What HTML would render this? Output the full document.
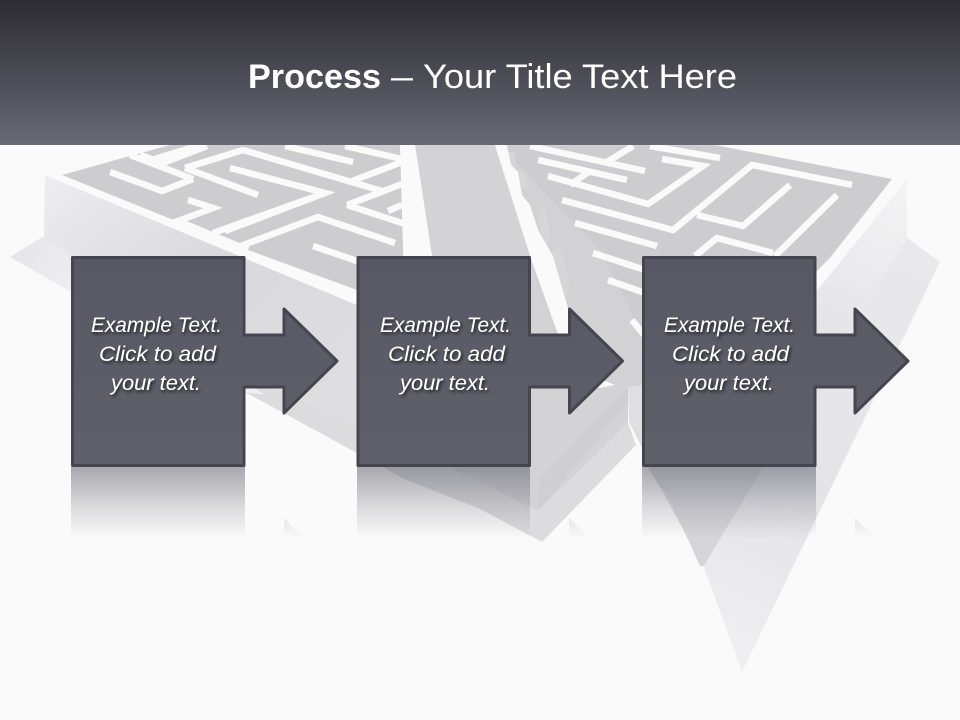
<!DOCTYPE html>
<html>
<head>
<meta charset="utf-8">
<style>
html,body{margin:0;padding:0;background:#fafafa;}
svg{display:block;}
.t{font-family:"Liberation Sans",sans-serif;font-style:italic;font-size:21.5px;fill:#fff;}
.h{font-family:"Liberation Sans",sans-serif;font-size:34px;fill:#fff;}
</style>
</head>
<body>
<svg width="960" height="720" viewBox="0 0 960 720" xmlns="http://www.w3.org/2000/svg">
<defs>
<linearGradient id="hd" x1="0" y1="0" x2="0" y2="1"><stop offset="0" stop-color="#2d2c32"/><stop offset="1" stop-color="#696975"/></linearGradient>
<linearGradient id="wl" gradientUnits="userSpaceOnUse" x1="45" y1="170" x2="300" y2="480"><stop offset="0" stop-color="#eeeef0"/><stop offset=".45" stop-color="#d9d9dd"/><stop offset="1" stop-color="#dfdfe2"/></linearGradient>
<linearGradient id="sh" gradientUnits="userSpaceOnUse" x1="10" y1="257" x2="90" y2="300"><stop offset="0" stop-color="#e6e6e9"/><stop offset="1" stop-color="#f0f0f2"/></linearGradient>
<linearGradient id="rw" gradientUnits="userSpaceOnUse" x1="900" y1="190" x2="720" y2="560"><stop offset="0" stop-color="#f3f3f4"/><stop offset=".4" stop-color="#e4e4e7"/><stop offset="1" stop-color="#dcdcdf"/></linearGradient>
<linearGradient id="rs" gradientUnits="userSpaceOnUse" x1="920" y1="260" x2="740" y2="670"><stop offset="0" stop-color="#e9e9ec"/><stop offset=".6" stop-color="#e4e4e8"/><stop offset="1" stop-color="#f0f0f3"/></linearGradient>
<linearGradient id="bx" x1="0" y1="0" x2="0" y2="1"><stop offset="0" stop-color="#585864"/><stop offset="1" stop-color="#60606b"/></linearGradient>
<linearGradient id="rf" gradientUnits="userSpaceOnUse" x1="0" y1="467" x2="0" y2="539"><stop offset="0" stop-color="#5b5b67" stop-opacity=".52"/><stop offset=".55" stop-color="#5b5b67" stop-opacity=".2"/><stop offset="1" stop-color="#5b5b67" stop-opacity="0"/></linearGradient>
<filter id="ts" x="-10%" y="-30%" width="125%" height="170%"><feDropShadow dx="1.5" dy="2" stdDeviation="1.6" flood-color="#000" flood-opacity=".7"/></filter>
</defs>

<rect width="960" height="720" fill="#fafafa"/>

<!-- left maze shadow and wall -->
<polygon points="44,236 10,257 260,400 357,453 420,300" fill="url(#sh)"/>
<polygon points="45,175 44,236 260,392 357,440 440,462 600,300 405,325" fill="url(#wl)"/>
<polygon points="245,392 357,453 377,463 402,478 480,509 542,542 636,445 628,423 538,511 480,483 440,462 300,400" fill="#dcdcdf"/>

<!-- right maze shadow and wall -->
<polygon points="907,238 940,262 742,672 703,565 800,380" fill="url(#rs)"/>
<polygon points="907,179 907,238 703,566 660,487 647,466 640,420 816,290" fill="url(#rw)"/>
<polygon points="647,466 660,487 666,491 700,566 704,566 763,466" fill="#d6d6da"/>

<!-- lane -->
<polygon points="415,145 495,145 565,388 628,387 628,423 538,511 480,483 440,462 432,256" fill="#d3d3d6"/>
<polygon points="540,478 628,387 628,402 538,511" fill="#cfcfd2"/>

<!-- left maze top -->
<polygon points="45,175 140,145 415,145 432,256 445,333 404,325 357,305" fill="#fafafa"/>
<polygon points="62,175 130,156 170,145 400,145 405,315 357,290 248,250" fill="#cdcdd0"/>
<g fill="none" stroke="#fafafa" stroke-width="6.5" stroke-linejoin="miter">
<polyline points="130,155 193,179"/>
<polyline points="110,172 162,191 193,179"/>
<polyline points="140,155 163,163 207,146"/>
<polyline points="155,159 200,145"/>
<polyline points="185,168 258,195"/>
<polyline points="185,168 243,150 382,191"/>
<polyline points="230,168 325,193 225,231"/>
<polyline points="285,146 353,162"/>
<polyline points="345,146 402,159"/>
<polyline points="352,181 402,162"/>
<polyline points="347,205 402,184"/>
<polyline points="347,205 405,224"/>
<polyline points="388,211 402,205"/>
<polyline points="188,200 213,208 178,221 248,250"/>
<polyline points="213,233 325,193"/>
<polyline points="238,247 318,217 395,243"/>
<polyline points="313,246 360,262"/>
</g>

<!-- right maze top -->
<polygon points="495,145 715,145 892,179 907,179 817,290 640,430 628,387 565,388" fill="#d2d2d4"/>
<polygon points="500,146 715,146 892,179 816,272 640,330 600,250" fill="#cdcdd0"/>
<polygon points="907,179 892,179 830,258 816,272 816,292" fill="#fafafa"/>
<g fill="#d6d6d8">
<polygon points="507,152 515,152 516,170 525,172 528,188 520,190"/>
<polygon points="537,210 546,208 550,240 543,246"/>
<polygon points="553,250 562,248 570,290 563,300"/>
</g>
<polygon points="495,145 507,145 511,165 518,172 522,195 530,205 538,230 553,256 568,308 578,340 560,340 530,256" fill="#fafafa"/>
<polygon points="598,378 615,385 600,388 590,384" fill="#fafafa"/>
<polygon points="628,387 643,385 643,450 629,422" fill="#dfdfe1"/>
<polygon points="629,422 643,450 635,443" fill="#fafafa"/>
<g fill="none" stroke="#fafafa" stroke-width="6.5" stroke-linejoin="miter">
<polyline points="530,146 645,171"/>
<polyline points="538,160 627,180"/>
<polyline points="548,176 648,204 703,166 662,159"/>
<polyline points="633,146 607,162"/>
<polyline points="590,171 570,185"/>
<polyline points="562,200 673,230 752,165 852,185"/>
<polyline points="575,223 657,246"/>
<polyline points="593,253 645,270"/>
<polyline points="608,280 645,293"/>
<polyline points="632,320 645,336"/>
<polyline points="650,146 720,158"/>
<polyline points="697,215 743,226 790,185"/>
<polyline points="695,256 717,238 773,253"/>
<polyline points="775,256 837,195"/>
</g>

<!-- header -->
<rect x="0" y="0" width="960" height="145" fill="url(#hd)"/>
<text class="h" x="248" y="88" font-weight="bold" textLength="133" lengthAdjust="spacingAndGlyphs">Process</text>
<text class="h" x="391" y="88" textLength="22" lengthAdjust="spacingAndGlyphs">–</text>
<text class="h" x="423" y="88" textLength="314" lengthAdjust="spacingAndGlyphs">Your Title Text Here</text>

<!-- reflections -->
<g fill="url(#rf)">
<path d="M71,467H245V539H71Z M284,518L304,539H284Z"/>
<path d="M357,467H530V539H357Z M569,518L590,539H569Z"/>
<path d="M642,467H816V539H642Z M855,518L876,539H855Z"/>
</g>

<!-- boxes -->
<g fill="url(#bx)" stroke="#46454f" stroke-width="3" stroke-linejoin="round">
<path d="M72.5,257.5H244V335H284V309L337,361L284,413V387H244V465.5H72.5Z"/>
<path d="M358,257.5H529.5V335H569.5V309L622.5,361L569.5,413V387H529.5V465.5H358Z"/>
<path d="M643.5,257.5H815V335H855V309L908,361L855,413V387H815V465.5H643.5Z"/>
</g>

<!-- labels -->
<g filter="url(#ts)">
<text class="t" x="91" y="332" textLength="131" lengthAdjust="spacingAndGlyphs">Example Text.</text>
<text class="t" x="99" y="361" textLength="117" lengthAdjust="spacingAndGlyphs">Click to add</text>
<text class="t" x="111" y="390" textLength="90" lengthAdjust="spacingAndGlyphs">your text.</text>
<text class="t" x="380" y="332" textLength="131" lengthAdjust="spacingAndGlyphs">Example Text.</text>
<text class="t" x="388" y="361" textLength="117" lengthAdjust="spacingAndGlyphs">Click to add</text>
<text class="t" x="400" y="390" textLength="90" lengthAdjust="spacingAndGlyphs">your text.</text>
<text class="t" x="664" y="332" textLength="131" lengthAdjust="spacingAndGlyphs">Example Text.</text>
<text class="t" x="672" y="361" textLength="117" lengthAdjust="spacingAndGlyphs">Click to add</text>
<text class="t" x="684" y="390" textLength="90" lengthAdjust="spacingAndGlyphs">your text.</text>
</g>
</svg>
</body>
</html>
